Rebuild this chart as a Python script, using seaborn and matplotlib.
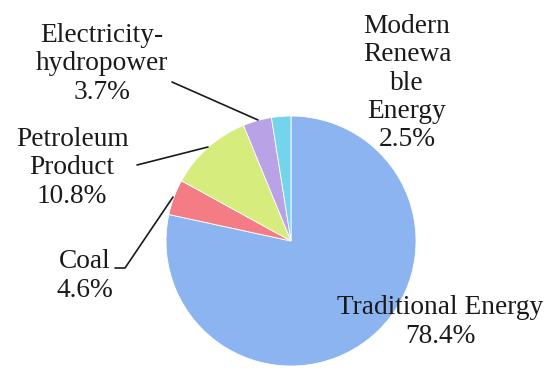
import matplotlib
matplotlib.use("Agg")
import matplotlib.pyplot as plt
import seaborn as sns

categories = ["Traditional Energy", "Coal", "Petroleum\nProduct", "Electricity-\nhydropower", "Modern\nRenewa\nble\nEnergy"]
shares = [78.4, 4.6, 10.8, 3.7, 2.5]
colors = ["#8cb4f0", "#f47c84", "#d6ec7c", "#b9a2e6", "#74d4ec"]

sns.set_theme(style="white")
plt.rcParams["font.family"] = ["Liberation Serif", "DejaVu Serif"]

fig = plt.figure(figsize=(5.5, 3.7), dpi=100)
ax = fig.add_axes([0, 0, 1, 1])

H = 370
cx, cy, r = 291, H - 241, 125
wedges, _ = ax.pie(shares, colors=sns.color_palette(colors), startangle=90, counterclock=False,
                   center=(cx, cy), radius=r, explode=[0.04, 0, 0, 0, 0],
                   wedgeprops=dict(edgecolor="white", linewidth=0.6), frame=True)
ax.set_xlim(0, 550)
ax.set_ylim(0, 370)
ax.set_aspect("equal")
ax.axis("off")

fs = 19.7
lab = [f"{c}\n{v}%" for c, v in zip(categories, shares)]
pos = [(440, H - 322), (85, H - 276), (72, H - 168), (102, H - 64), (407, H - 83)]
for t, (x, y) in zip(lab, pos):
    ax.text(x, y, t, ha="center", va="center", fontsize=fs, color="#1a1a1a", linespacing=1.18)

lc = "#1a1a1a"
ax.plot([172, 258], [H - 82, H - 120], color=lc, lw=1.2)
ax.plot([137, 208], [H - 165, H - 147], color=lc, lw=1.2)
ax.plot([115, 125, 173], [H - 268, H - 268, H - 197], color=lc, lw=1.2)

fig.savefig("out.png", dpi=100)
